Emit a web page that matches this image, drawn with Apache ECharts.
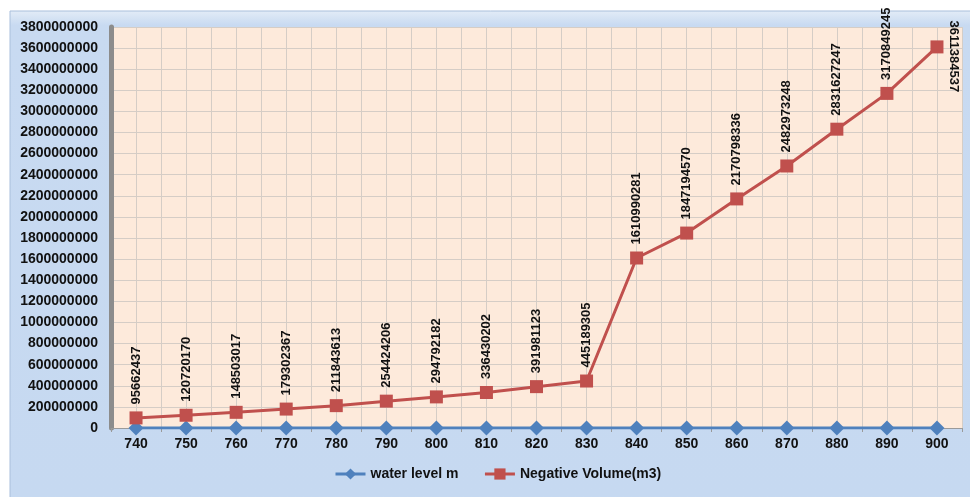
<!DOCTYPE html>
<html>
<head>
<meta charset="utf-8">
<script src="https://cdn.jsdelivr.net/npm/echarts@6/dist/echarts.min.js"></script>
<style>
html,body{margin:0;padding:0;background:#fff;}
#c{width:970px;height:497px;}
</style>
</head>
<body>
<div id="c"></div>
<script>
var categories = ['740','750','760','770','780','790','800','810','820','830','840','850','860','870','880','890','900'];
var waterLevel = [740,750,760,770,780,790,800,810,820,830,840,850,860,870,880,890,900];
var negativeVolume = [95662437,120720170,148503017,179302367,211843613,254424206,294792182,336430202,391981123,445189305,1610990281,1847194570,2170798336,2482973248,2831627247,3170849245,3611384537];
var yMin = 0, yMax = 3800000000, yStep = 200000000;

var halfBands = [];
for (var i = 0; i < categories.length * 2; i++) halfBands.push('');

var FONT = 'Liberation Sans';
var volData = negativeVolume.map(function (v, i) {
  if (i === negativeVolume.length - 1) {
    return { value: v, label: { position: [23, 16], rotate: -90, align: 'center', verticalAlign: 'middle' } };
  }
  return v;
});

var chart = echarts.init(document.getElementById('c'), null, { renderer: 'canvas' });
chart.setOption({
  backgroundColor: '#ffffff',
  animation: false,
  textStyle: { fontFamily: FONT },
  graphic: [{
    type: 'rect', z: -10, silent: true,
    shape: { x: 10, y: 11, width: 962, height: 490 },
    style: {
      fill: new echarts.graphic.LinearGradient(0, 0, 0, 1, [
        { offset: 0, color: '#e3ecf7' },
        { offset: 0.03, color: '#c8daf1' },
        { offset: 1, color: '#c6d9f1' }
      ]),
      stroke: '#a9bfdc', lineWidth: 1
    }
  }],
  grid: { left: 111, right: 8, top: 27, bottom: 69, show: true, backgroundColor: '#fdeadb', borderWidth: 0 },
  legend: {
    bottom: 11, left: 329, itemWidth: 30, itemHeight: 14, itemGap: 25,
    lineStyle: { width: 3 },
    textStyle: { fontFamily: FONT, fontSize: 14, fontWeight: 'bold', color: '#111' },
    data: ['water level m', 'Negative Volume(m3)']
  },
  xAxis: [{
    type: 'category', data: categories, boundaryGap: true, position: 'bottom',
    axisLine: { show: true, lineStyle: { color: '#9a9a9a', width: 1 } },
    axisTick: { show: true, length: 4, lineStyle: { color: '#9a9a9a' } },
    axisLabel: { margin: 9, fontSize: 14, fontWeight: 'bold', color: '#111', fontFamily: FONT },
    splitLine: { show: false }
  }, {
    type: 'category', data: halfBands, boundaryGap: true, position: 'bottom',
    axisLine: { show: false }, axisTick: { show: false }, axisLabel: { show: false },
    splitLine: { show: true, lineStyle: { color: '#d5cdc6', width: 1 } }
  }],
  yAxis: {
    type: 'value', min: yMin, max: yMax, interval: yStep,
    axisLine: { show: true, onZero: false, lineStyle: { color: '#8c8c8c', width: 5 } },
    axisTick: { show: false },
    axisLabel: {
      margin: 13, fontSize: 14, fontWeight: 'bold', color: '#111', fontFamily: FONT,
      formatter: function (v) { return String(v); }
    },
    splitLine: { show: true, lineStyle: { color: '#d5cdc6', width: 1 } }
  },
  series: [{
    name: 'water level m', type: 'line', data: waterLevel, xAxisIndex: 0,
    symbol: 'diamond', symbolSize: 15,
    lineStyle: { color: '#4f81bd', width: 3 },
    itemStyle: { color: '#4f81bd' },
    z: 3
  }, {
    name: 'Negative Volume(m3)', type: 'line', data: volData, xAxisIndex: 0,
    symbol: 'rect', symbolSize: 13,
    lineStyle: { color: '#c0504d', width: 3 },
    itemStyle: { color: '#c0504d' },
    label: {
      show: true, position: 'top', distance: 7, rotate: 90, align: 'left', verticalAlign: 'middle',
      fontSize: 13, fontWeight: 'bold', color: '#111', fontFamily: FONT
    },
    z: 4
  }]
});
</script>
</body>
</html>
